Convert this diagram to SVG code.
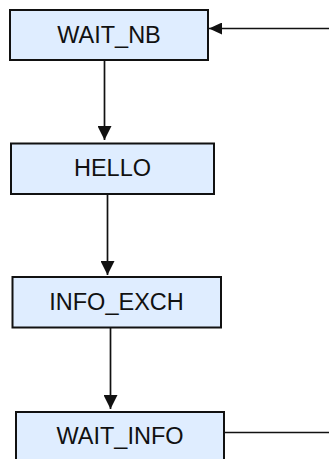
<svg xmlns="http://www.w3.org/2000/svg" width="329" height="459" viewBox="0 0 329 459">
  <style>
    .box { fill: #dfedff; stroke: #111; stroke-width: 2; }
    .lbl { font-family: "Liberation Sans", Arial, sans-serif; font-size: 23.5px; fill: #111; text-anchor: middle; }
    .wire { fill: none; stroke: #111; stroke-width: 1.7; }
  </style>
  <defs>
    <marker id="arrow" viewBox="0 0 14 14" refX="14" refY="7" markerWidth="14" markerHeight="14" markerUnits="userSpaceOnUse" orient="auto">
      <path d="M0,0 L14,7 L0,14 Z" fill="#111"/>
    </marker>
    <marker id="arrow-small" viewBox="0 0 13 12" refX="13" refY="6" markerWidth="13" markerHeight="12" markerUnits="userSpaceOnUse" orient="auto">
      <path d="M0,0 L13,6 L0,12 Z" fill="#111"/>
    </marker>
  </defs>
  <rect width="329" height="459" fill="#fff"/>

  <g id="connectors">
    <line class="wire" x1="329" y1="28.5" x2="209" y2="28.5" marker-end="url(#arrow-small)"/>
    <line class="wire" x1="104.5" y1="60" x2="104.5" y2="140" marker-end="url(#arrow)"/>
    <line class="wire" x1="107.5" y1="194" x2="107.5" y2="275" marker-end="url(#arrow)"/>
    <line class="wire" x1="110.5" y1="327" x2="110.5" y2="409" marker-end="url(#arrow)"/>
    <line class="wire" x1="224" y1="432.5" x2="329" y2="432.5"/>
  </g>

  <g id="wait_nb">
    <rect class="box" x="10" y="10" width="198" height="50"/>
    <text class="lbl" x="109" y="43">WAIT_NB</text>
  </g>
  <g id="hello">
    <rect class="box" x="11" y="143.5" width="203" height="50.5"/>
    <text class="lbl" x="112.5" y="176">HELLO</text>
  </g>
  <g id="info_exch">
    <rect class="box" x="12.5" y="277" width="208.5" height="50.5"/>
    <text class="lbl" x="116.5" y="309.5">INFO_EXCH</text>
  </g>
  <g id="wait_info">
    <rect class="box" x="16" y="412" width="208" height="60"/>
    <text class="lbl" x="120" y="443.5">WAIT_INFO</text>
  </g>
</svg>
